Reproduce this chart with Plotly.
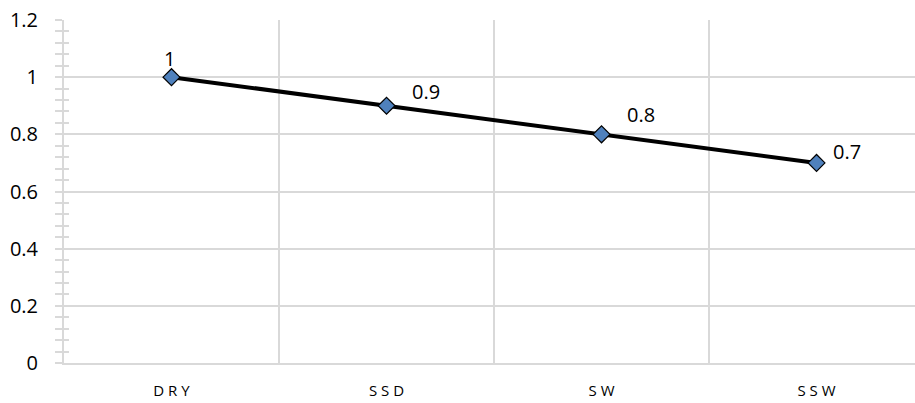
import plotly.graph_objects as go

categories = ["DRY", "SSD", "SW", "SSW"]
category_labels = ["D R Y", "S S D", "S W", "S S W"]
values = [1.0, 0.9, 0.8, 0.7]
# per-point label offsets in pixels (dx, dy)
label_offsets = [(-2, 19), (39, 14), (39, 20), (30, 11)]

grid = "#d9d9d9"
font = "Open Sans, Liberation Sans, sans-serif"

fig = go.Figure()
fig.add_trace(go.Scatter(
    x=list(range(len(categories))), y=values,
    mode="lines+markers",
    line=dict(color="#000000", width=4),
    marker=dict(symbol="diamond", size=13, color="#4f81bd",
                line=dict(color="#000000", width=1.2)),
    hoverinfo="skip", showlegend=False,
))

for i, (v, (dx, dy)) in enumerate(zip(values, label_offsets)):
    fig.add_annotation(x=i, y=v, text=f"{v:g}", showarrow=False,
                       xshift=dx, yshift=dy,
                       font=dict(family=font, size=20, color="#000000"))

fig.update_layout(
    width=915, height=403,
    margin=dict(l=64, r=0, t=20, b=40),
    plot_bgcolor="white", paper_bgcolor="white",
    font=dict(family=font, color="#000000"),
    xaxis=dict(
        range=[-0.5, 3.458],
        tickvals=list(range(len(categories))), ticktext=category_labels,
        showgrid=False, zeroline=False,
        showline=True, linecolor=grid, linewidth=2,
        tickfont=dict(size=15), ticks="", ticklabelstandoff=13,
    ),
    yaxis=dict(
        range=[0, 1.2], dtick=0.2, tickformat="~g",
        showgrid=True, gridcolor=grid, gridwidth=2,
        zeroline=False, showline=True, linecolor=grid, linewidth=2,
        ticks="outside", ticklen=7, tickcolor=grid, tickwidth=2,
        minor=dict(dtick=0.04, ticks="outside", ticklen=7,
                   tickcolor=grid, tickwidth=2, showgrid=False),
        tickfont=dict(size=20), ticklabelstandoff=13,
    ),
    yaxis2=dict(
        range=[0, 1.2], dtick=0.2, overlaying="y", side="left",
        showgrid=False, zeroline=False, showticklabels=False,
        ticks="inside", ticklen=5, tickcolor=grid, tickwidth=2,
        minor=dict(dtick=0.04, ticks="inside", ticklen=5,
                   tickcolor=grid, tickwidth=2),
    ),
)

# vertical separators between categories
for b in [0.5, 1.5, 2.5]:
    fig.add_shape(type="line", xref="x", yref="paper", x0=b, x1=b, y0=0, y1=1,
                  line=dict(color=grid, width=2), layer="below")

# invisible trace so the second y axis renders its ticks
fig.add_trace(go.Scatter(x=[None], y=[None], yaxis="y2", showlegend=False))

fig.write_html("out.html")
